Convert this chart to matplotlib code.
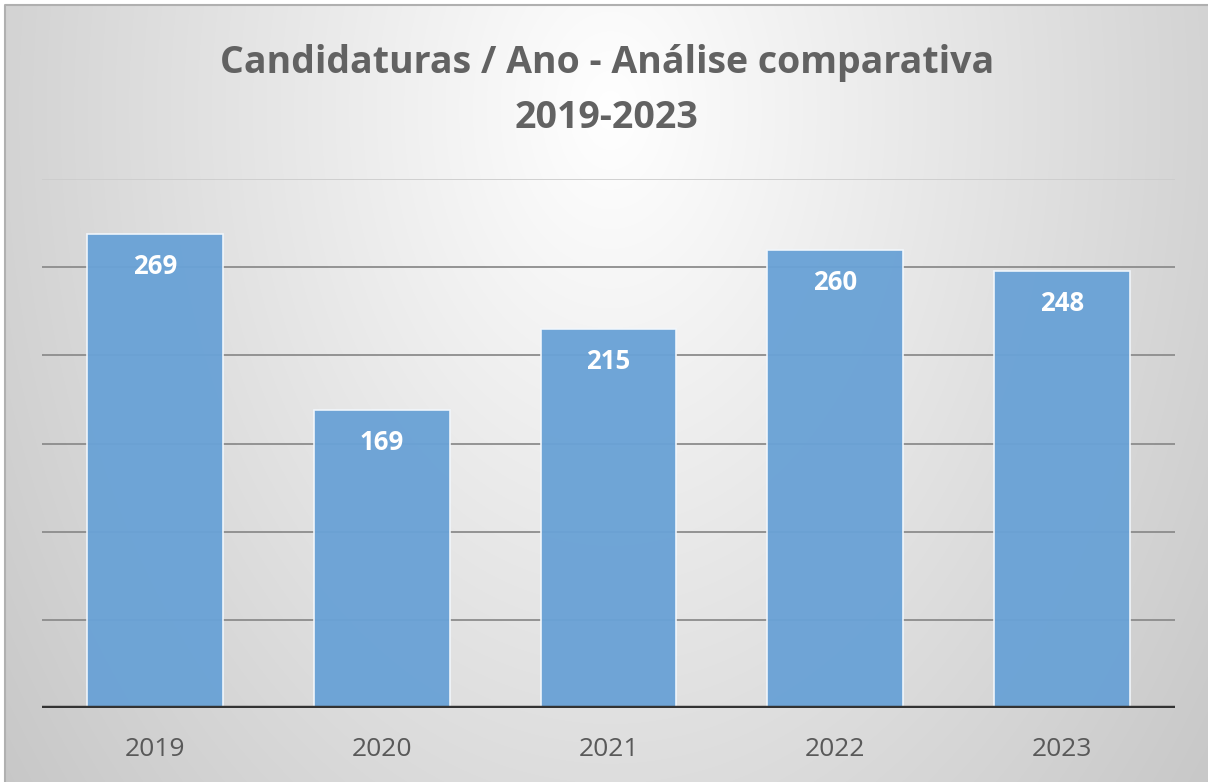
import numpy as np
import matplotlib
matplotlib.use("Agg")
import matplotlib.pyplot as plt
from matplotlib.patches import Rectangle

years = ["2019", "2020", "2021", "2022", "2023"]
values = [269, 169, 215, 260, 248]
title_line1 = "Candidaturas / Ano - Análise comparativa"
title_line2 = "2019-2023"

W, H = 1208, 782
fig = plt.figure(figsize=(W / 100, H / 100), dpi=100)

# background radial gradient
bg = fig.add_axes([0, 0, 1, 1], zorder=0)
yy, xx = np.mgrid[0:H, 0:W]
r = np.sqrt(((xx - 610) / 660.0) ** 2 + ((yy - 110) / 950.0) ** 2)
g = np.clip(255 - 48 * r, 185, 255) / 255.0
img = np.dstack([g, g, g])
bg.imshow(img, extent=[0, W, H, 0], aspect="auto", interpolation="bilinear")
bg.set_xlim(0, W)
bg.set_ylim(H, 0)
bg.add_patch(Rectangle((0, 0), W, 5, color="white", lw=0))
bg.add_patch(Rectangle((0, 0), 5, H, color="white", lw=0))
bg.plot([5, 5, W], [H, 5, 5], color="#b0b0b0", lw=1.5)
bg.axis("off")

left, right, top, bottom = 42, 1175, 179, 708
ax = fig.add_axes([left / W, 1 - bottom / H, (right - left) / W, (bottom - top) / H], zorder=1)
ax.patch.set_alpha(0)
x = np.arange(len(years))
ax.set_xlim(-0.5, len(years) - 0.5)
ax.set_ylim(0, 300)

for gy in [50, 100, 150, 200, 250]:
    ax.axhline(gy, color="#8c8c8c", lw=1.3, zorder=1)
ax.axhline(300, color="#cdcdcd", lw=1.3, zorder=1)

ax.bar(x, values, width=0.6, color="#6aa2d6", alpha=0.96, edgecolor="#f2f7fc",
       linewidth=1.2, zorder=2)
for xi, v in zip(x, values):
    ax.text(xi, v - 18.5, str(v), ha="center", va="center", color="white",
            fontsize=18.5, fontweight="bold", family="Open Sans", zorder=3)

ax.axhline(0, color="#333333", lw=3.2, zorder=4)
for s in ax.spines.values():
    s.set_visible(False)
ax.set_yticks([])
ax.set_xticks(x)
ax.set_xticklabels(years, fontsize=19, color="#595959", family="Open Sans")
ax.tick_params(axis="x", length=0, pad=21)

fig.text(607 / W, 1 - 73 / H, title_line1, ha="center", va="baseline", fontsize=27,
         fontweight="bold", color="#626262", family="Open Sans")
fig.text(607 / W, 1 - 128 / H, title_line2, ha="center", va="baseline", fontsize=27,
         fontweight="bold", color="#626262", family="Open Sans")

fig.savefig("out.png", dpi=100)
